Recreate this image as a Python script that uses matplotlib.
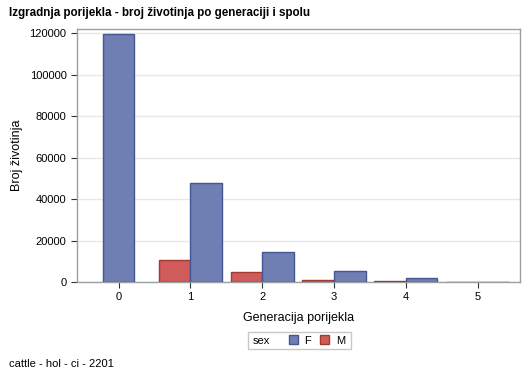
import matplotlib.pyplot as plt
import matplotlib.patches as mpatches
import numpy as np

# data
generations = [0, 1, 2, 3, 4, 5]
count_f = [119500, 47900, 14500, 5300, 2100, 200]
count_m = [np.nan, 10650, 4700, 1100, 500, 80]   # no males in gen 0

plt.rcParams['font.family'] = ['Liberation Sans', 'DejaVu Sans']

col_f, edge_f = '#6F7EB3', '#445694'
col_m, edge_m = '#D05B5B', '#A23A2E'

W, H = 529, 378
fig = plt.figure(figsize=(W / 100, H / 100), dpi=100)
ax = fig.add_axes([77 / W, 1 - 282 / H, (520 - 77) / W, (282 - 29.3) / H])

w = 0.44
for g, f, m in zip(generations, count_f, count_m):
    if np.isnan(m):
        # only one group present -> bar sits centered on the tick
        ax.bar(g, f, width=w, color=col_f, edgecolor=edge_f, linewidth=1, zorder=3)
    else:
        ax.bar(g - w / 2, m, width=w, color=col_m, edgecolor=edge_m, linewidth=1, zorder=3)
        ax.bar(g + w / 2, f, width=w, color=col_f, edgecolor=edge_f, linewidth=1, zorder=3)

ax.set_xlim(-0.58, 5.59)
ax.set_ylim(0, 121900)
ax.set_xticks(generations)
ax.set_yticks(np.arange(0, 120001, 20000))
ax.tick_params(labelsize=8, colors='#333333', length=4, width=0.8, labelcolor='black')
ax.yaxis.grid(True, color='#E8E8E8', linewidth=1, zorder=0)

for s in ax.spines.values():
    s.set_color('#9A9FA3')
    s.set_linewidth(1)

ax.set_xlabel('Generacija porijekla', fontsize=9, labelpad=7)
ax.set_ylabel('Broj životinja', fontsize=9, labelpad=5)

fig.text(9 / W, 1 - 13 / H, 'Izgradnja porijekla - broj životinja po generaciji i spolu',
         fontsize=8.4, fontweight='bold', va='center', ha='left')
fig.text(9 / W, 1 - 364 / H, 'cattle - hol - ci - 2201', fontsize=8, va='center', ha='left')

# legend box: frame + "sex" label drawn by hand, entries from a frameless legend
fig.patches.append(mpatches.Rectangle((248 / W, 1 - 349 / H), 103 / W, 17 / H,
                                      transform=fig.transFigure, fill=False,
                                      edgecolor='#C8C8C8', linewidth=1))
fig.text(253 / W, 1 - 340.5 / H, 'sex', fontsize=8, va='center', ha='left')
handles = [mpatches.Patch(facecolor=col_f, edgecolor=edge_f),
           mpatches.Patch(facecolor=col_m, edgecolor=edge_m)]
fig.legend(handles, ['F', 'M'], loc='center left', bbox_to_anchor=(289 / W, 1 - 340.5 / H),
           ncol=2, fontsize=8, frameon=False, borderpad=0, borderaxespad=0,
           handlelength=0.8, handleheight=0.8, handletextpad=0.6, columnspacing=0.8)

fig.savefig('out.png', dpi=100)
